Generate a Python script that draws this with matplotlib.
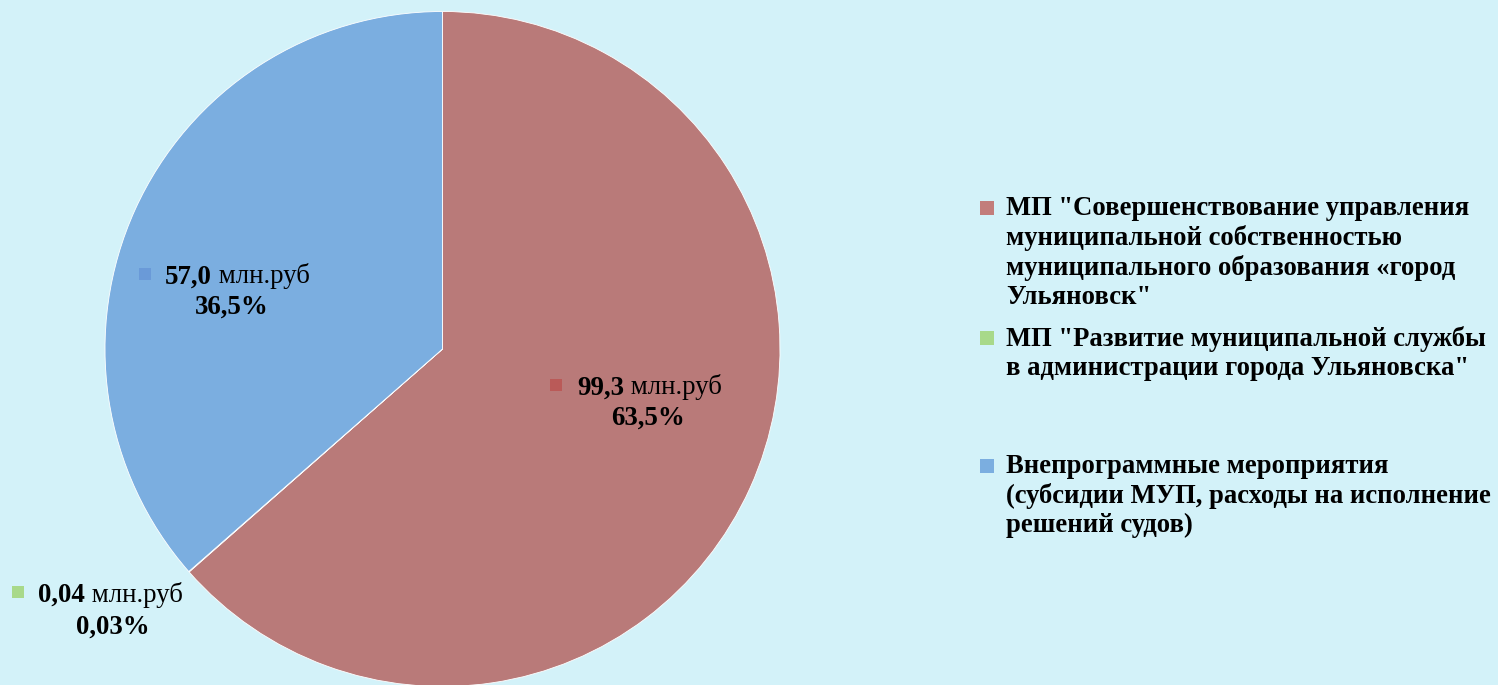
import matplotlib.pyplot as plt
from matplotlib.patches import Rectangle

plt.rcParams['font.family'] = ['Liberation Serif', 'DejaVu Serif']

# data
values = [99.3, 0.04, 57.0]
value_labels = ["99,3", "0,04", "57,0"]
percent_labels = ["63,5%", "0,03%", "36,5%"]
legend_labels = [
    'МП "Совершенствование управления\nмуниципальной собственностью\nмуниципального образования «город\nУльяновск"',
    'МП "Развитие муниципальной службы\nв администрации города Ульяновска"',
    'Внепрограммные мероприятия\n(субсидии МУП, расходы на исполнение\nрешений судов)',
]
colors = ['#B97A79', '#A8D98A', '#7BAEE0']
marker_colors = ['#BA5A58', '#A8D98A', '#6A9AD8']
legend_marker_colors = ['#C27D7B', '#A8D98A', '#7BAEE0']
bg = '#D3F2F9'

W, H = 1498, 685
fig = plt.figure(figsize=(W / 100, H / 100), dpi=100)
fig.patch.set_facecolor(bg)


def px(x, y):
    return x / W, 1 - y / H


cx, cy, r = 442.5, 349, 337.5
ax = fig.add_axes([(cx - r) / W, (H - cy - r) / H, 2 * r / W, 2 * r / H])
ax.pie(values, colors=colors, startangle=90, counterclock=False,
       wedgeprops=dict(linewidth=0.6, edgecolor='white'))
ax.set_xlim(-1, 1)
ax.set_ylim(-1, 1)
ax.set_aspect('auto')
ax.axis('off')

# data labels: (marker x, marker y, text left x, line1 y, line2 center x, line2 y)
label_pos = [
    (556, 385, 577, 388, 648, 418),
    (18, 592, 38, 595, 113, 627),
    (145, 274, 165, 277, 232, 307),
]
fs = 19.4
for i, (mx, my, tx, ty, px2, py2) in enumerate(label_pos):
    fig.patches.append(Rectangle(px(mx - 6, my + 6), 12 / W, 12 / H,
                                 transform=fig.transFigure, facecolor=marker_colors[i],
                                 edgecolor='none'))
    t1 = fig.text(*px(tx, ty), value_labels[i], fontsize=fs, fontweight='bold',
                  ha='left', va='center')
    plt.annotate(' млн.руб', xy=(1, 0), xycoords=t1, va='bottom', ha='left',
                 fontsize=fs, annotation_clip=False)
    fig.text(*px(px2, py2), percent_labels[i], fontsize=fs, fontweight='bold',
             ha='center', va='center')

# legend
leg_pos = [(987, 208), (987, 338), (987, 466)]
for i, (lx, ly) in enumerate(leg_pos):
    fig.patches.append(Rectangle(px(lx - 7, ly + 7), 14 / W, 14 / H,
                                 transform=fig.transFigure,
                                 facecolor=legend_marker_colors[i], edgecolor='none'))
    fig.text(*px(lx + 19, ly - 12), legend_labels[i], fontsize=19.2, fontweight='bold',
             ha='left', va='top', linespacing=1.2)

fig.savefig('out.png', dpi=100, facecolor=bg)
